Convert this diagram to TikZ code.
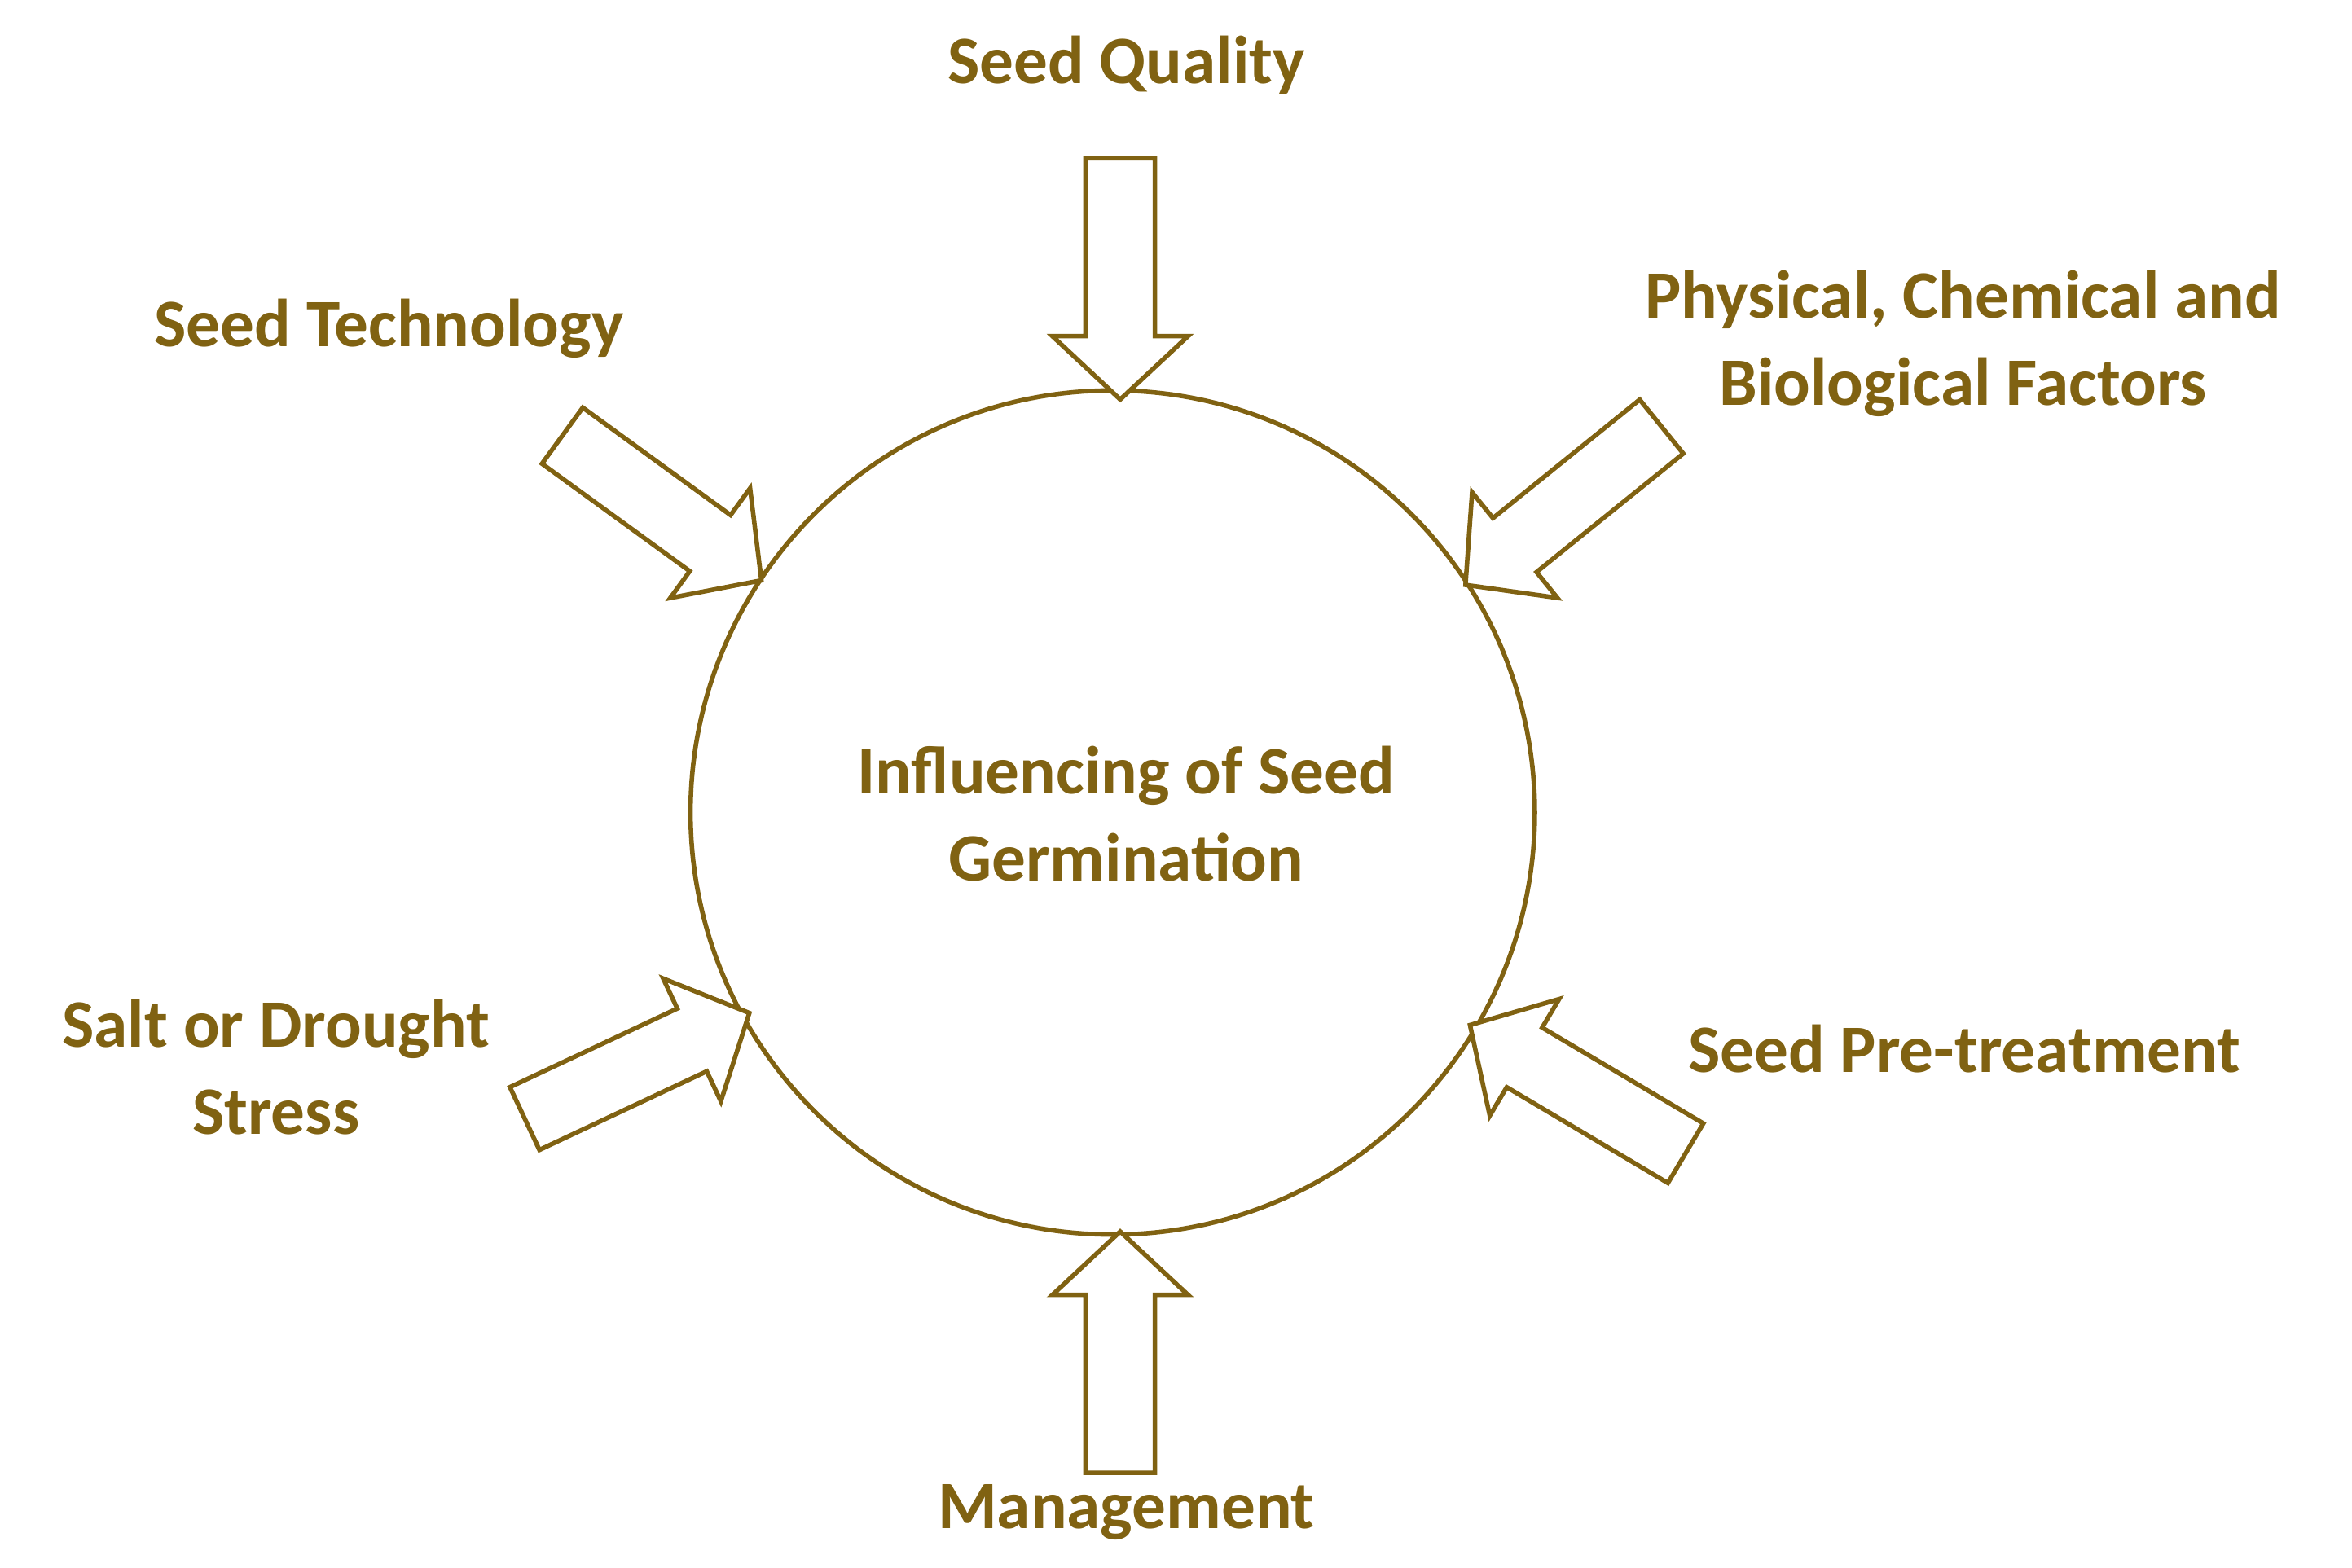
\documentclass[tikz,border=0pt]{standalone}
\usepackage{fontspec}
\setmainfont{Carlito}
\usetikzlibrary{calc}
\definecolor{brn}{RGB}{128,98,18}
\tikzset{arr/.style={draw=brn,line width=3pt,line join=miter,fill=white},
lbl/.style={text=brn,font=\bfseries\fontsize{45}{58}\selectfont,align=center,inner sep=0pt}}
\newcommand\fatarrow[2]{%
\coordinate (fa) at (#1); \coordinate (fb) at (#2);
\coordinate (fh) at ($(fb)!42pt!(fa)$);
\draw[arr] ($(fa)!23pt!90:(fb)$) -- ($(fh)!23pt!-90:(fa)$) -- ($(fh)!45pt!-90:(fa)$) -- (fb) -- ($(fh)!45pt!90:(fa)$) -- ($(fh)!23pt!90:(fa)$) -- ($(fa)!23pt!-90:(fb)$) -- cycle;}
\begin{document}
\begin{tikzpicture}[x=1pt,y=-1pt]
\useasboundingbox (0,0) rectangle (1560,1040);
\node[circle,draw=brn,line width=3pt,minimum size=560pt] (c) at (738,539) {};
\node[lbl] (ct) at (747,540) {Influencing of Seed\\Germination};
\fatarrow{743,105}{743,265}
\fatarrow{743,977}{743,817}
\fatarrow{373,289}{505,385}
\fatarrow{1102,283}{972,388}
\fatarrow{348,742}{497,672}
\fatarrow{1118,765}{975,680}
\node[lbl] (t1) at (747,43) {Seed Quality};
\node[lbl] (t2) at (258,218) {Seed Technology};
\node[lbl] (t3) at (1302,228) {Physical, Chemical and\\Biological Factors};
\node[lbl] (t4) at (183,708) {Salt or Drought\\Stress};
\node[lbl] (t5) at (1303,696) {Seed Pre-treatment};
\node[lbl] (t6) at (747,1003) {Management};
\end{tikzpicture}
\end{document}
